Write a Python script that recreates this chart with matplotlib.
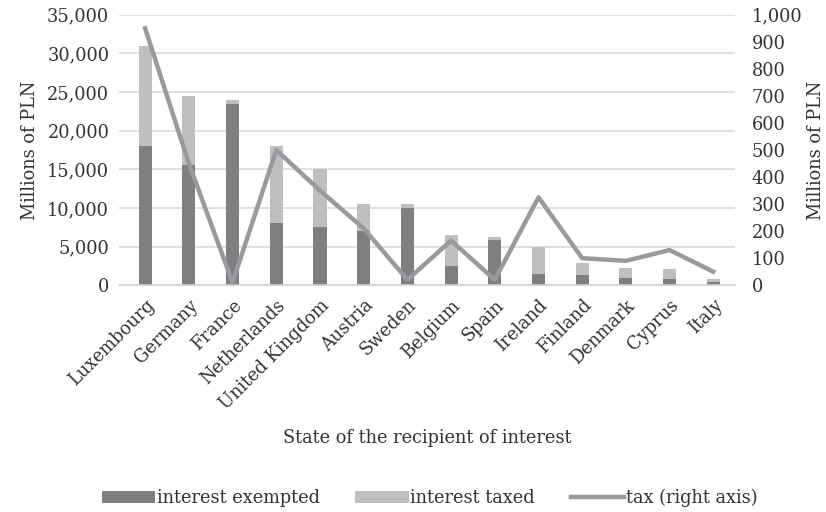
import matplotlib.pyplot as plt
import numpy as np

states = ['Luxembourg', 'Germany', 'France', 'Netherlands', 'United Kingdom',
          'Austria', 'Sweden', 'Belgium', 'Spain', 'Ireland', 'Finland',
          'Denmark', 'Cyprus', 'Italy']
exempted = [18000, 15500, 23500, 8000, 7500, 7000, 10000, 2500, 5800, 1400, 1300, 900, 800, 400]
taxed = [13000, 9000, 500, 10000, 7500, 3500, 500, 4000, 400, 3600, 1600, 1300, 1300, 400]
tax = [950, 450, 10, 500, 350, 210, 20, 165, 20, 325, 100, 90, 130, 50]

plt.rcParams['font.family'] = ['DejaVu Serif']
plt.rcParams['font.size'] = 12.8
txt = '#333333'

fig = plt.figure(figsize=(8.26, 5.12), dpi=100)
ax = fig.add_axes([0.144, 0.443, 0.746, 0.528])
x = np.arange(len(states))

b1 = ax.bar(x, exempted, width=0.3, color='#7f7f82', label='interest exempted', zorder=2)
b2 = ax.bar(x, taxed, width=0.3, bottom=exempted, color='#bfbfc2', label='interest taxed', zorder=2)

ax.set_ylim(0, 35000)
ax.set_xlim(-0.6, 13.5)
ax.set_yticks(range(0, 35001, 5000))
ax.set_yticklabels([f'{v:,}' for v in range(0, 35001, 5000)], color=txt)
ax.grid(axis='y', color='#d9d9d9', linewidth=1.2, zorder=0)
for s in ['top', 'left', 'right']:
    ax.spines[s].set_visible(False)
ax.spines['bottom'].set_color('#d0d0d0')
ax.spines['bottom'].set_linewidth(1.2)
ax.tick_params(axis='y', length=0, pad=7)
ax.tick_params(axis='x', length=0, pad=8)
ax.set_xticks(x)
ax.set_xticklabels(states, rotation=45, ha='right', rotation_mode='anchor', color=txt)
ax.set_ylabel('Millions of PLN', color=txt, labelpad=6)
ax.set_xlabel('State of the recipient of interest', color=txt, labelpad=12)

ax2 = ax.twinx()
line, = ax2.plot(x, tax, color='#9a9a9e', linewidth=3.2, label='tax (right axis)', zorder=3)
ax2.set_ylim(0, 1000)
ax2.set_yticks(range(0, 1001, 100))
ax2.set_yticklabels([f'{v:,}' for v in range(0, 1001, 100)], color=txt)
for s in ax2.spines.values():
    s.set_visible(False)
ax2.tick_params(length=0, pad=12)
ax2.set_ylabel('Millions of PLN', color=txt, labelpad=3)

fig.legend(handles=[b1, b2, line], loc='lower center', ncol=3, frameon=False,
           bbox_to_anchor=(0.52, -0.022), handlelength=3.0, handletextpad=0.1,
           columnspacing=2.0, labelcolor=txt)

fig.savefig('out.png', dpi=100)
